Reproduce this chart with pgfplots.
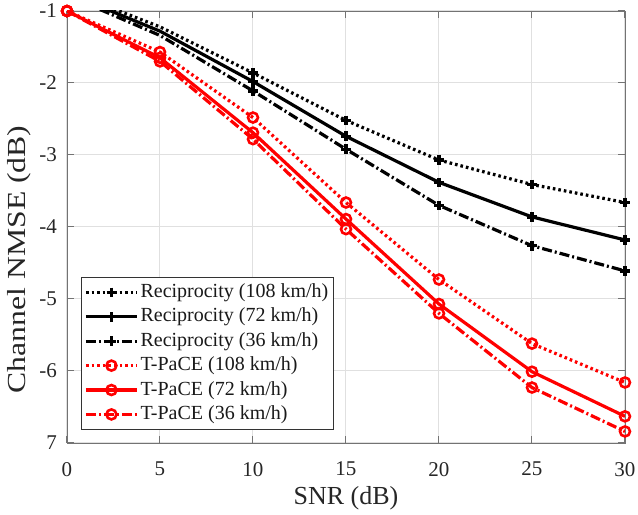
\documentclass[border=0pt]{standalone}
\usepackage{fontspec}
\setmainfont{Liberation Serif}
\usepackage{graphicx}
\usepackage{pgfplots}
\pgfplotsset{compat=1.18}
\usetikzlibrary{calc}

\begin{document}
\begin{tikzpicture}
\begin{axis}[
    width=279pt, height=216pt, scale only axis,
    xmin=0, xmax=30, ymin=-7, ymax=-1,
    /pgf/number format/assume math mode=true,
    xtick={0,5,...,30}, ytick={-7,-6,...,-1},
    xticklabels={0,5,10,15,20,25,30},
    yticklabels={7,-6,-5,-4,-3,-2,-1},
    tick align=inside, major tick length=3.5pt,
    axis line style={black!55},
    every tick/.style={black!55, line width=0.5pt},
    grid=major, major grid style={black!12, line width=0.5pt},
    x tick label style={font=\rmfamily\fontsize{10.5}{12}\selectfont, text=black!85, yshift=-6pt},
    y tick label style={font=\rmfamily\fontsize{10.5}{12}\selectfont, text=black!85, xshift=-1.5pt},
    xlabel={SNR (dB)},
    ylabel={\scalebox{1.22}[1]{Channel NMSE (dB)}},
    every axis x label/.style={at={(rel axis cs:0.5,0)}, anchor=center, yshift=-27.5pt, text=black!85, font=\fontsize{13}{15}\selectfont},
    every axis y label/.style={at={(rel axis cs:0,0.425)}, rotate=90, anchor=center, yshift=24pt, text=black!85, font=\fontsize{13}{15}\selectfont},
    legend cell align=left,
    legend style={at={(rel axis cs:0.025,0.03)}, anchor=south west, draw=black!80,
        font=\fontsize{10}{12}\selectfont, text=black!90, inner sep=1.5pt, row sep=0pt,
        nodes={inner sep=1pt, text height=7.6pt, text depth=2.6pt}},
    legend image code/.code={\draw[#1, mark repeat=2, mark phase=2] plot coordinates {(0pt,0pt) (12.75pt,0pt) (25.5pt,0pt)};},
]
\addplot[black, line width=1.6pt, dash pattern=on 1.3pt off 1.5pt, mark=+, mark size=2.4pt, mark options={solid, line width=1.6pt}, mark phase=2]
    coordinates {(0,-0.72) (5,-1.22) (10,-1.86) (15,-2.52) (20,-3.07) (25,-3.41) (30,-3.66)};
\addlegendentry{Reciprocity (108 km/h)}
\addplot[black, line width=1.6pt, mark=+, mark size=2.4pt, mark options={solid, line width=1.6pt}, mark phase=2]
    coordinates {(0,-0.75) (5,-1.28) (10,-1.98) (15,-2.74) (20,-3.38) (25,-3.86) (30,-4.18)};
\addlegendentry{Reciprocity (72 km/h)}
\addplot[black, line width=1.6pt, dash pattern=on 5pt off 1.5pt on 1pt off 1.5pt, mark=+, mark size=2.4pt, mark options={solid, line width=1.6pt}, mark phase=2]
    coordinates {(0,-0.78) (5,-1.34) (10,-2.11) (15,-2.92) (20,-3.70) (25,-4.26) (30,-4.61)};
\addlegendentry{Reciprocity (36 km/h)}
\addplot[red, line width=1.6pt, dash pattern=on 1.3pt off 1.5pt, mark=o, mark size=2.5pt, mark options={solid, line width=1.3pt}]
    coordinates {(0,-1) (5,-1.57) (10,-2.48) (15,-3.66) (20,-4.73) (25,-5.62) (30,-6.16)};
\addlegendentry{T-PaCE (108 km/h)}
\addplot[red, line width=1.6pt, mark=o, mark size=2.5pt, mark options={solid, line width=1.3pt}]
    coordinates {(0,-1) (5,-1.65) (10,-2.69) (15,-3.89) (20,-5.07) (25,-6.01) (30,-6.63)};
\addlegendentry{T-PaCE (72 km/h)}
\addplot[red, line width=1.6pt, dash pattern=on 5pt off 1.5pt on 1pt off 1.5pt, mark=o, mark size=2.5pt, mark options={solid, line width=1.3pt}]
    coordinates {(0,-1) (5,-1.70) (10,-2.78) (15,-4.03) (20,-5.20) (25,-6.23) (30,-6.84)};
\addlegendentry{T-PaCE (36 km/h)}
\end{axis}
\pgfresetboundingbox
\path[use as bounding box] ($(current axis.south west)+(-33.5pt,-36pt)$) rectangle ($(current axis.north east)+(6.5pt,5.5pt)$);
\end{tikzpicture}
\end{document}
